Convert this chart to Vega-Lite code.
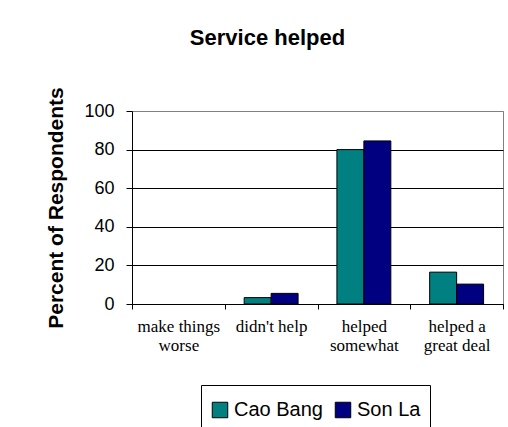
{
  "$schema": "https://vega.github.io/schema/vega-lite/v6.json",
  "autosize": {"type": "none"},
  "width": 371,
  "height": 193,
  "padding": {"left": 132, "top": 111, "right": 5, "bottom": 123},
  "background": "white",
  "title": {
    "text": "Service helped",
    "font": "Liberation Sans",
    "fontSize": 22,
    "fontWeight": "bold",
    "color": "black",
    "anchor": "middle",
    "dx": -50,
    "baseline": "alphabetic",
    "offset": 20
  },
  "data": {
    "values": [
      {"category": "make things worse", "region": "Cao Bang", "percent": 0},
      {"category": "make things worse", "region": "Son La", "percent": 0},
      {"category": "didn't help", "region": "Cao Bang", "percent": 3.3},
      {"category": "didn't help", "region": "Son La", "percent": 5.5},
      {"category": "helped somewhat", "region": "Cao Bang", "percent": 80},
      {"category": "helped somewhat", "region": "Son La", "percent": 84.5},
      {"category": "helped a great deal", "region": "Cao Bang", "percent": 16.5},
      {"category": "helped a great deal", "region": "Son La", "percent": 10.3}
    ]
  },
  "mark": {"type": "bar", "stroke": "black", "strokeWidth": 1},
  "encoding": {
    "x": {
      "field": "category",
      "type": "nominal",
      "sort": ["make things worse", "didn't help", "helped somewhat", "helped a great deal"],
      "scale": {"paddingInner": 0, "paddingOuter": 0},
      "axis": {
        "title": null,
        "labelAngle": 0,
        "tickBand": "extent",
        "tickSize": 5,
        "labelPadding": 9,
        "labelFont": "Liberation Serif",
        "labelFontSize": 17,
        "labelLineHeight": 19,
        "labelColor": "black",
        "labelBaseline": "top",
        "labelExpr": "datum.label == 'make things worse' ? ['make things', 'worse'] : datum.label == 'helped somewhat' ? ['helped', 'somewhat'] : datum.label == 'helped a great deal' ? ['helped a', 'great deal'] : datum.label",
        "domainColor": "black",
        "tickColor": "black",
        "grid": false
      }
    },
    "xOffset": {
      "field": "region",
      "type": "nominal",
      "scale": {"paddingOuter": 0.72, "paddingInner": 0}
    },
    "y": {
      "field": "percent",
      "type": "quantitative",
      "scale": {"domain": [0, 100], "nice": false},
      "axis": {
        "values": [0, 20, 40, 60, 80, 100],
        "grid": true,
        "gridColor": {"condition": {"test": "datum.value === 100", "value": "#808080"}, "value": "black"},
        "gridOpacity": 1,
        "gridWidth": 1,
        "tickSize": 6,
        "tickColor": "black",
        "domainColor": "black",
        "labelPadding": 12,
        "labelFont": "Liberation Sans",
        "labelFontSize": 18,
        "labelColor": "black",
        "title": "Percent of Respondents",
        "titleFont": "Liberation Sans",
        "titleFontSize": 21,
        "titleFontWeight": "bold",
        "titleColor": "black",
        "titleAngle": -90,
        "titleAlign": "center",
        "titleBaseline": "alphabetic",
        "titleX": -70,
        "titleY": 96.5
      }
    },
    "strokeOpacity": {
      "condition": {"test": "datum.percent == 0", "value": 0},
      "value": 1
    },
    "color": {
      "field": "region",
      "type": "nominal",
      "scale": {"domain": ["Cao Bang", "Son La"], "range": ["#008080", "#000080"]},
      "legend": {
        "title": " ",
        "titleFontSize": 4,
        "titlePadding": 2,
        "orient": "none",
        "direction": "horizontal",
        "legendX": 69,
        "legendY": 274,
        "padding": 9,
        "strokeColor": "black",
        "fillColor": "white",
        "symbolType": "square",
        "symbolSize": 240,
        "symbolStrokeColor": "black",
        "symbolStrokeWidth": 1,
        "symbolOpacity": 1,
        "labelFont": "Liberation Sans",
        "labelFontSize": 20,
        "labelColor": "black",
        "labelOffset": 4,
        "columnPadding": 10
      }
    }
  },
  "config": {
    "view": {"stroke": "#808080", "strokeWidth": 1}
  }
}
